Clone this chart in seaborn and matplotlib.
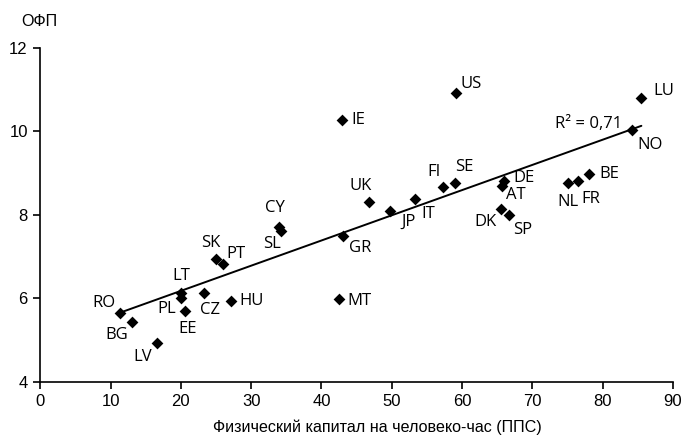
import numpy as np
import pandas as pd
import matplotlib
matplotlib.use("Agg")
import matplotlib.pyplot as plt
import seaborn as sns

# Country codes, physical capital per hour worked (PPP) and TFP
countries = ["RO", "BG", "LV", "LT", "PL", "EE", "CZ", "HU", "SK", "PT",
             "CY", "SL", "MT", "GR", "IE", "UK", "JP", "IT", "FI", "SE",
             "US", "DE", "AT", "DK", "SP", "NL", "FR", "BE", "NO", "LU"]
capital = [11.4, 13.1, 16.6, 20.0, 20.0, 20.6, 23.3, 27.1, 24.95, 26.0,
           33.9, 34.3, 42.5, 43.0, 42.9, 46.7, 49.8, 53.3, 57.3, 59.0,
           59.1, 66.0, 65.7, 65.5, 66.7, 75.0, 76.5, 78.0, 84.2, 85.5]
tfp = [5.65, 5.42, 4.92, 6.12, 6.01, 5.69, 6.13, 5.93, 6.95, 6.81,
       7.70, 7.62, 5.97, 7.50, 10.28, 8.30, 8.10, 8.38, 8.67, 8.75,
       10.91, 8.81, 8.69, 8.14, 7.99, 8.77, 8.81, 8.97, 10.03, 10.80]

x_ticks = list(range(0, 91, 10))
y_ticks = [4, 6, 8, 10, 12]
r2_text = "R² = 0,71"
x_title = "Физический капитал на человеко-час (ППС)"
y_title = "ОФП"

# label offsets in pixels (dx, dy) relative to each marker
label_offsets = {
    "RO": (-16, 10), "BG": (-16, -13), "LV": (-14, -14), "LT": (0, 17),
    "PL": (-14, -11), "EE": (3, -18), "CZ": (6, -17), "HU": (21, 0),
    "SK": (-5, 16), "PT": (13, 10), "CY": (-4, 19), "SL": (-9, -13),
    "MT": (20, -2), "GR": (18, -12), "IE": (16, 0), "UK": (-8, 16),
    "JP": (18, -11), "IT": (13, -15), "FI": (-9, 15), "SE": (9, 16),
    "US": (15, 9), "DE": (20, 3), "AT": (14, -9), "DK": (-15, -13),
    "SP": (13, -15), "NL": (0, -19), "FR": (13, -18), "BE": (21, 0),
    "NO": (18, -15), "LU": (22, 7),
}

df = pd.DataFrame({"country": countries, "capital": capital, "tfp": tfp})

sns.set_theme(style="ticks")
plt.rcParams["font.family"] = ["Liberation Sans", "DejaVu Sans"]
label_family = ["Open Sans", "DejaVu Sans"]

fig = plt.figure(figsize=(6.85, 4.43), dpi=100)
ax = fig.add_axes([0.0588, 0.1384, 0.9237, 0.7539])

sns.regplot(data=df, x="capital", y="tfp", ax=ax, ci=None, truncate=True,
            marker="D", color="black",
            scatter_kws={"s": 36, "linewidths": 0, "alpha": 1, "zorder": 3},
            line_kws={"linewidth": 1.4, "color": "black", "zorder": 2})

for c, xv, yv in zip(countries, capital, tfp):
    dx, dy = label_offsets[c]
    ax.annotate(c, (xv, yv), xytext=(dx, dy), textcoords="offset pixels",
                ha="center", va="center", fontsize=12,
                family=label_family, color="black")

ax.text(77.95, 10.17, r2_text, ha="center", va="center", fontsize=12,
        family=label_family, color="black")

ax.set_xlim(0, 90)
ax.set_ylim(4, 12)
ax.set_xticks(x_ticks)
ax.set_yticks(y_ticks)
ax.set_xlabel("")
ax.set_ylabel("")
ax.tick_params(axis="both", direction="out", length=5, width=1.2,
               labelsize=12, colors="black", pad=4)
for side in ("left", "bottom"):
    ax.spines[side].set_linewidth(1.2)
    ax.spines[side].set_color("black")
sns.despine(ax=ax)

fig.text(0.5515, 0.036, x_title, ha="center", va="center", fontsize=11.6, color="black")
fig.text(0.0574, 0.951, y_title, ha="center", va="center", fontsize=11.6, color="black")

fig.savefig("out.png", dpi=100, facecolor="white")
